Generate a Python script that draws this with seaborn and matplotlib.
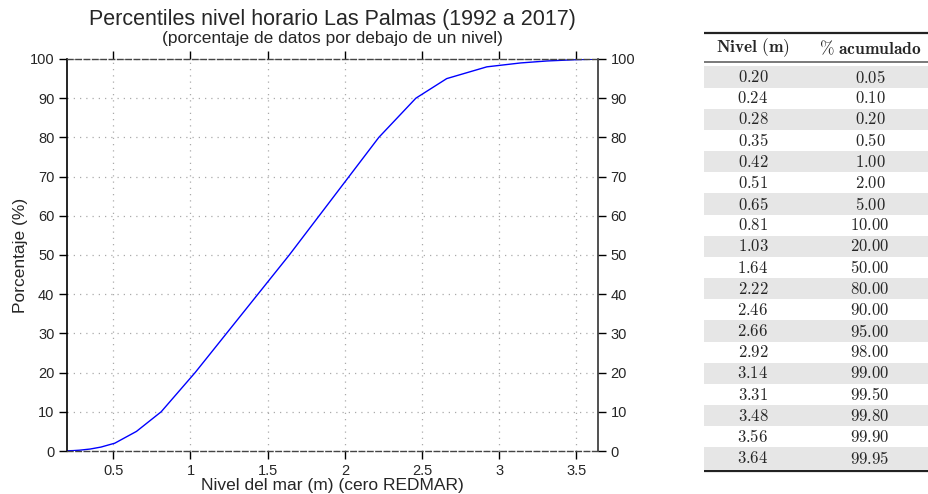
import matplotlib
matplotlib.use("Agg")
import matplotlib.pyplot as plt
import seaborn as sns
import pandas as pd
import numpy as np

nivel = [0.20, 0.24, 0.28, 0.35, 0.42, 0.51, 0.65, 0.81, 1.03, 1.64,
         2.22, 2.46, 2.66, 2.92, 3.14, 3.31, 3.48, 3.56, 3.64]
acumulado = [0.05, 0.10, 0.20, 0.50, 1.00, 2.00, 5.00, 10.00, 20.00, 50.00,
             80.00, 90.00, 95.00, 98.00, 99.00, 99.50, 99.80, 99.90, 99.95]
x_ticks = [0.5, 1, 1.5, 2, 2.5, 3, 3.5]
x_ticklabels = ["0.5", "1", "1.5", "2", "2.5", "3", "3.5"]
y_ticks = list(range(0, 101, 10))

title = "Percentiles nivel horario Las Palmas (1992 a 2017)"
subtitle = "(porcentaje de datos por debajo de un nivel)"
xlabel = "Nivel del mar (m) (cero REDMAR)"
ylabel = "Porcentaje (%)"

sns.set_theme(style="white")
plt.rcParams["font.family"] = ["Liberation Sans", "DejaVu Sans"]
plt.rcParams["mathtext.fontset"] = "cm"

df = pd.DataFrame({"nivel": nivel, "acumulado": acumulado})

fig = plt.figure(figsize=(9.29, 4.94), dpi=100)
W, H = 929, 494
ax = fig.add_axes([67 / W, 1 - 451 / H, (598 - 67) / W, (451 - 59) / H])

sns.lineplot(data=df, x="nivel", y="acumulado", ax=ax, color="#0000ff", linewidth=1.0)

ax.set_xlim(0.2, 3.64)
ax.set_ylim(0, 100)
ax.set_xticks(x_ticks)
ax.set_xticklabels(x_ticklabels)
ax.set_yticks(y_ticks)
ax.grid(True, linestyle=(0, (1, 4)), color="#aaaaaa", linewidth=0.9)
ax.tick_params(axis="both", which="major", direction="out", length=6, width=1,
               labelsize=10.5, color="black", pad=3)
ax.tick_params(axis="x", top=True, bottom=True)
ax.tick_params(axis="y", left=True, right=True, labelright=True)
for s in ["top", "bottom"]:
    ax.spines[s].set_linestyle((0, (4, 2)))
    ax.spines[s].set_color("#444444")
    ax.spines[s].set_linewidth(1.0)
ax.spines["left"].set_color("black")
ax.spines["left"].set_linewidth(1.2)
ax.spines["right"].set_color("#333333")
ax.spines["right"].set_linewidth(1.2)
ax.set_xlabel(xlabel, fontsize=12.5, labelpad=0)
ax.set_ylabel(ylabel, fontsize=12.5, labelpad=1)

cx = (67 + 598) / 2 / W
fig.text(cx, 1 - 20 / H, title, ha="center", va="center", fontsize=15.5)
fig.text(cx, 1 - 39 / H, subtitle, ha="center", va="center", fontsize=12.5)

# Table
row_h = 21.17
y0 = 77
ymin, ymax = -2.2, 18.75
top_px = y0 + ymin * row_h
bot_px = y0 + ymax * row_h
tl, tr = 704, 940
tax = fig.add_axes([tl / W, 1 - bot_px / H, (tr - tl) / W, (bot_px - top_px) / H])
tax.set_xlim(0, 1)
tax.set_ylim(ymax, ymin)
tax.axis("off")
c1, c2 = (753 - tl) / (tr - tl), (870 - tl) / (tr - tl)
for i, (n, a) in enumerate(zip(nivel, acumulado)):
    if i % 2 == 0:
        tax.axhspan(i - 0.5, i + 0.5, color="#e6e6e6", lw=0)
    tax.text(c1, i, r"$\mathrm{%.2f}$" % n, ha="center", va="center", fontsize=12)
    tax.text(c2, i, r"$\mathrm{%.2f}$" % a, ha="center", va="center", fontsize=12)
hy = (48 - y0) / row_h
tax.text(c1, hy, r"$\mathbf{Nivel\ (m)}$", ha="center", va="center", fontsize=12.5)
tax.text(c2, hy, r"$\mathbf{\%\ acumulado}$", ha="center", va="center", fontsize=12.5)
tax.axhline((33 - y0) / row_h, color="#222222", lw=1.6)
tax.axhline((62 - y0) / row_h, color="#555555", lw=1.1)
tax.axhline((471 - y0) / row_h, color="#222222", lw=1.6)

fig.savefig("out.png", dpi=100)
